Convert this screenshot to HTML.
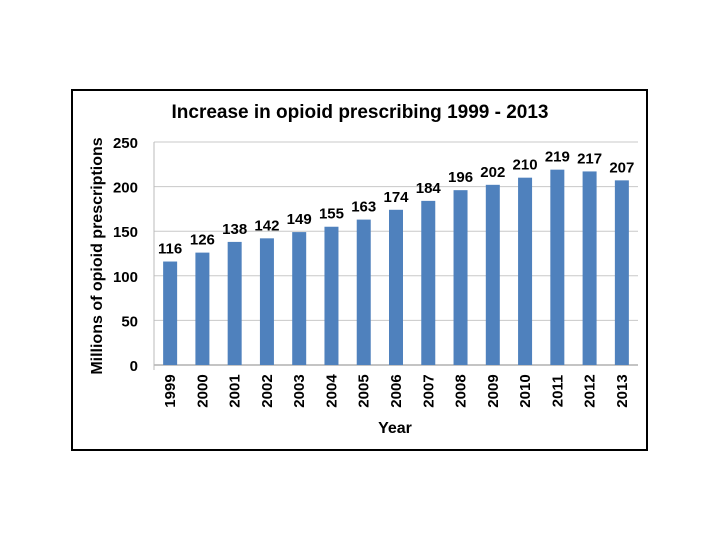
<!DOCTYPE html>
<html><head><meta charset="utf-8"><style>
body{margin:0;background:#fff;width:720px;height:540px;overflow:hidden}
svg text{font-family:"Liberation Sans",sans-serif;font-weight:bold;fill:#000}
</style></head><body>
<svg id="chart" width="720" height="540">
<rect x="72" y="90" width="575" height="360" fill="#fff" stroke="#000" stroke-width="2"/>
<text x="360" y="118" text-anchor="middle" font-size="19">Increase in opioid prescribing 1999 - 2013</text>
<text transform="translate(102,256) rotate(-90)" text-anchor="middle" font-size="16">Millions of opioid prescriptions</text>
<text x="395" y="433" text-anchor="middle" font-size="16">Year</text>
<g id="grid"></g><g id="bars"></g><g id="labels"></g>
</svg>
<script>
const years=["1999","2000","2001","2002","2003","2004","2005","2006","2007","2008","2009","2010","2011","2012","2013"];
const values=[116,126,138,142,149,155,163,174,184,196,202,210,219,217,207];
const yTicks=[0,50,100,150,200,250];
const NS="http://www.w3.org/2000/svg";
const x0=154,x1=638,yBase=365,yTop=142,yMax=250;
const bw=(x1-x0)/years.length;
function yS(v){return yBase-(v/yMax)*(yBase-yTop);}
function xC(i){return x0+bw*(i+0.5);}
function mk(t,a,p){const e=document.createElementNS(NS,t);for(const k in a)e.setAttribute(k,a[k]);p.appendChild(e);return e;}
const grid=document.getElementById('grid'),bars=document.getElementById('bars'),labels=document.getElementById('labels');
yTicks.forEach(t=>{
 const l=mk('line',{x1:x0,x2:x1,y1:yS(t),y2:yS(t),stroke:t===0?'#888':'#c8c8c8','stroke-width':1},grid);
 
 
 const tx=mk('text',{x:138,y:yS(t)+6,'text-anchor':'end','font-size':15},grid);
 tx.textContent=t;
 
 
});
const ax=mk('line',{x1:x0,x2:x0,y1:yTop,y2:yBase+5,stroke:'#bbb'},grid);


years.forEach((y,i)=>{
 const v=values[i],cx=xC(i);
 const r=mk('rect',{x:cx-7,y:yS(v),width:14,height:yBase-yS(v),fill:'#4f81bd'},bars);
 
 
 const lb=mk('text',{x:cx,y:yS(v)-8,'text-anchor':'middle','font-size':15},labels);
 lb.textContent=v;
 
 
 const yl=mk('text',{transform:'translate('+(cx+5)+',391) rotate(-90)','text-anchor':'middle','font-size':15},labels);
 yl.textContent=y;
 
 
});
</script>
</body></html>
